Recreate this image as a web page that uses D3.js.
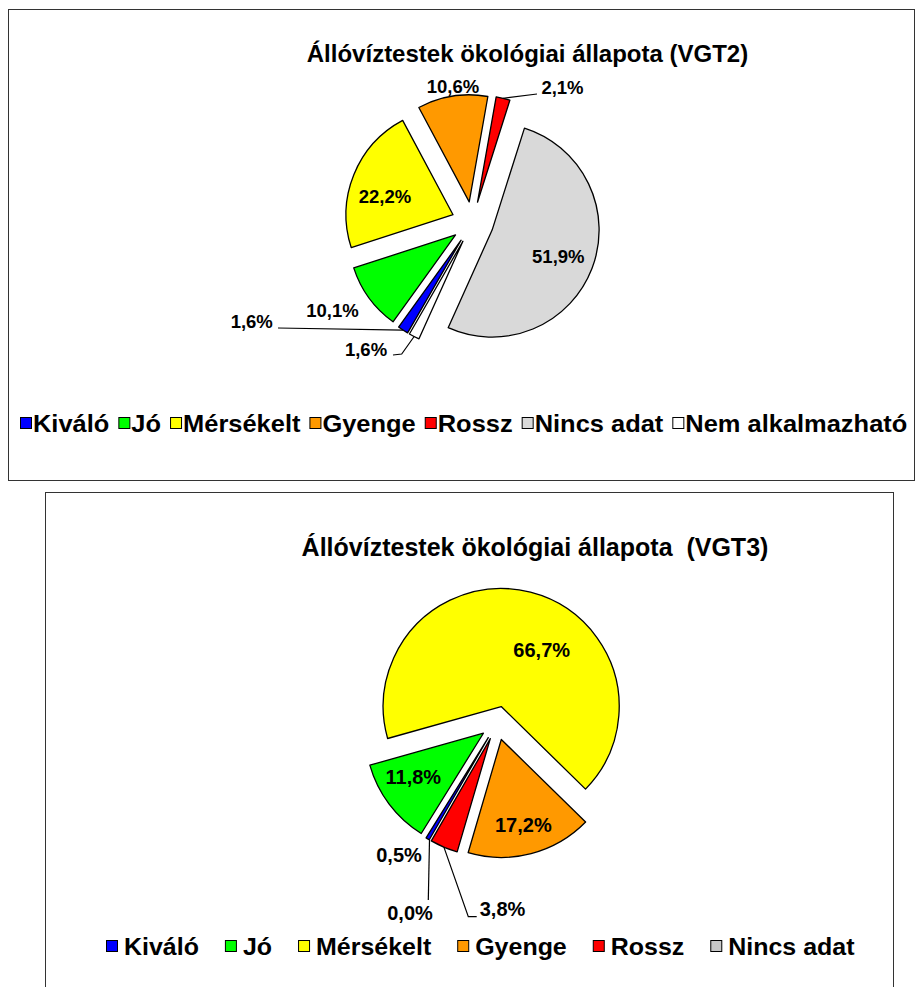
<!DOCTYPE html>
<html><head><meta charset="utf-8">
<script src="https://cdn.jsdelivr.net/npm/d3@7"></script>
<style>
body{margin:0;background:#fff}
svg{display:block}
text{font-family:"Liberation Sans",Arial,Helvetica,sans-serif;font-weight:bold;fill:#000}
</style>
</head><body>
<svg id="chart" width="916" height="987"></svg>
<script>
// ---------- DATA ----------
const categoriesVGT2 = ["Kiváló","Jó","Mérsékelt","Gyenge","Rossz","Nincs adat","Nem alkalmazható"];
const valuesVGT2 = [1.6, 10.1, 22.2, 10.6, 2.1, 51.9, 1.6];
const colorsVGT2 = ["#0000FF","#00FF00","#FFFF00","#FF9900","#FF0000","#D9D9D9","#FFFFFF"];

const categoriesVGT3 = ["Kiváló","Jó","Mérsékelt","Gyenge","Rossz","Nincs adat"];
const valuesVGT3 = [0.5, 11.8, 66.7, 17.2, 3.8, 0.0];
const colorsVGT3 = ["#0000FF","#00FF00","#FFFF00","#FF9900","#FF0000","#C8C8C8"];

const titleVGT2 = "Állóvíztestek ökológiai állapota (VGT2)";
const titleVGT3 = "Állóvíztestek ökológiai állapota  (VGT3)";

// ---------- LAYOUT ----------
const layoutVGT2 = {
  frame: {x: 8.5, y: 9.5, w: 906, h: 471},
  title: {x: 527.5, y: 61.7, size: 24},
  cx: 472.5, cy: 222.6, r: 107, explode: 21, startDeg: 210,
  labelSize: 18.5,
  labelPos: [[-220.8, 98.9], [-140, 87.4], [-87.5, -26.1], [-19.5, -136.5], [90, -135.1], [85.8, 34.1], [-106.5, 126.4]],
  leaders: {0: [[26.3, 6.5]], 4: [[-25.5, 6.5]], 6: [[27, 6], [35.7, 5]]},
  legend: {x: 20, y: 432, size: 24, stretch: 1.06, sq: 11, sqGap: 2, gap: 9}
};
const layoutVGT3 = {
  frame: {x: 45.5, y: 492.5, w: 848, h: 520},
  title: {x: 535, y: 556, size: 25},
  cx: 497, cy: 723, r: 118, explode: 17, startDeg: 210,
  labelSize: 20,
  labelPos: [[-98, 132], [-83.7, 53.5], [44.7, -73], [26.3, 102], [5.5, 186], [-87, 189.5]],
  leaders: {5: [[18.3, -12.5]], 4: [[-25.8, 7.7], [-34.2, 7.7]]},
  legend: {x: 106, y: 955, size: 24, stretch: 1.04, sq: 11, sqGap: 7, gap: 26}
};

const svg = d3.select("#chart");
const fmt = v => d3.format(".1f")(v).replace(".", ",") + "%";

function drawChart(categories, values, colors, title, L) {
  const g = svg.append("g");
  g.append("rect").attr("x", L.frame.x).attr("y", L.frame.y)
    .attr("width", L.frame.w).attr("height", L.frame.h)
    .attr("fill", "#fff").attr("stroke", "#333").attr("stroke-width", 1);

  g.append("text").attr("x", L.title.x).attr("y", L.title.y)
    .attr("text-anchor", "middle").style("font-size", L.title.size + "px")
    .style("white-space", "pre").attr("xml:space", "preserve").text(title);

  const a0 = L.startDeg * Math.PI / 180;
  const pie = d3.pie().sort(null).startAngle(a0).endAngle(a0 + 2 * Math.PI);
  const arcs = pie(values);
  const arc = d3.arc().innerRadius(0).outerRadius(L.r);

  const pg = g.append("g").attr("transform", `translate(${L.cx},${L.cy})`);
  arcs.forEach((a, i) => {
    const mid = (a.startAngle + a.endAngle) / 2;
    a.ox = L.explode * Math.sin(mid);
    a.oy = -L.explode * Math.cos(mid);
    a.tip = [a.ox + L.r * Math.sin(mid), a.oy - L.r * Math.cos(mid)];
    if (a.value > 0) {
      pg.append("path").attr("d", arc(a))
        .attr("transform", `translate(${a.ox},${a.oy})`)
        .attr("fill", colors[i]).attr("stroke", "#000")
        .attr("stroke-width", 1.3).attr("stroke-linejoin", "round");
    }
  });

  Object.keys(L.leaders).forEach(k => {
    const i = +k, a = arcs[i], lp = L.labelPos[i];
    const pts = L.leaders[k].map(p => [lp[0] + p[0], lp[1] + p[1]]);
    pts.push(a.tip);
    pg.append("path").attr("d", d3.line()(pts))
      .attr("fill", "none").attr("stroke", "#000").attr("stroke-width", 1.2);
  });

  arcs.forEach((a, i) => {
    const lp = L.labelPos[i];
    pg.append("text").attr("x", lp[0]).attr("y", lp[1]).attr("dy", "0.36em")
      .attr("text-anchor", "middle").style("font-size", L.labelSize + "px")
      .text(fmt(values[i]));
  });

  const lg = g.append("g");
  let x = L.legend.x;
  categories.forEach((c, i) => {
    lg.append("rect").attr("x", x + 0.5).attr("y", L.legend.y - 14.5)
      .attr("width", L.legend.sq).attr("height", L.legend.sq)
      .attr("fill", colors[i]).attr("stroke", "#000").attr("stroke-width", 1);
    x += L.legend.sq + L.legend.sqGap;
    const t = lg.append("text").attr("x", x).attr("y", L.legend.y)
      .style("font-size", L.legend.size + "px").text(c);
    const w = t.node().getComputedTextLength() * L.legend.stretch;
    t.attr("textLength", w).attr("lengthAdjust", "spacingAndGlyphs");
    x += w + L.legend.gap;
  });
}

drawChart(categoriesVGT2, valuesVGT2, colorsVGT2, titleVGT2, layoutVGT2);
drawChart(categoriesVGT3, valuesVGT3, colorsVGT3, titleVGT3, layoutVGT3);
</script>
</body></html>
